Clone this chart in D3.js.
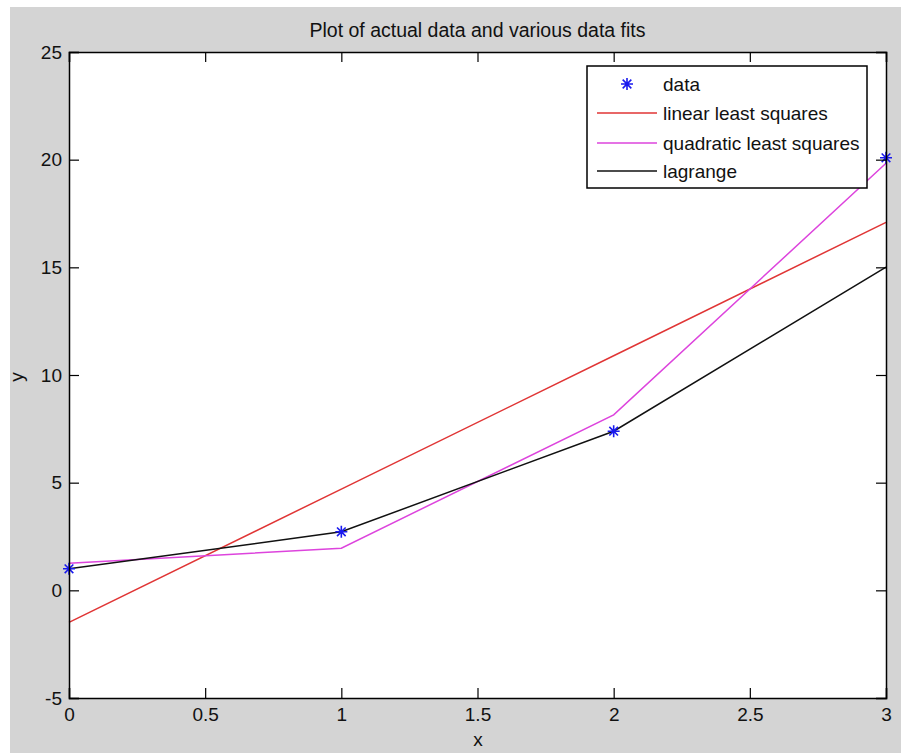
<!DOCTYPE html>
<html><head><meta charset="utf-8">
<script src="https://cdn.jsdelivr.net/npm/d3@7"></script>
<style>body{margin:0;background:#fff}svg{display:block}text{font-family:"Liberation Sans",Arial,sans-serif}</style>
</head><body><svg id="c" width="901" height="753"></svg>
<script>
const xs = [0, 1, 2, 3];
const dataY = [1.0, 2.718, 7.389, 20.086];
const linearY = [-1.491, 4.702, 10.894, 17.087];
const quadY = [1.254, 1.957, 8.150, 19.832];
const lagrangeY = [1.0, 2.718, 7.389, 15.01];
const xTicks = [0, 0.5, 1, 1.5, 2, 2.5, 3];
const yTicks = [-5, 0, 5, 10, 15, 20, 25];
const legendLabels = ["data", "linear least squares", "quadratic least squares", "lagrange"];
const title = "Plot of actual data and various data fits";

const svg = d3.select("#c");
svg.append("rect").attr("x",10).attr("y",7).attr("width",891).attr("height",746).attr("fill","#d4d4d4");
const L=69,R=886,T=52,B=698;
const x = d3.scaleLinear().domain([0,3]).range([L,R]);
const y = d3.scaleLinear().domain([-5,25]).range([B,T]);
svg.append("rect").attr("x",L).attr("y",T).attr("width",R-L).attr("height",B-T).attr("fill","#fff");

const fs = 19;
const line = d3.line().x((d,i)=>x(xs[i])).y(d=>y(d));
const series = [
  {vals: linearY, color:"#e03535"},
  {vals: quadY, color:"#dd44dd"},
  {vals: lagrangeY, color:"#111"}
];
series.forEach(s=>{
  svg.append("path").attr("d",line(s.vals)).attr("fill","none").attr("stroke",s.color).attr("stroke-width",1.5);
});
function star(g, cx, cy, r, color){
  const p = `M${cx-r},${cy}L${cx+r},${cy}M${cx},${cy-r}L${cx},${cy+r}`+
    `M${cx-r*0.72},${cy-r*0.72}L${cx+r*0.72},${cy+r*0.72}M${cx-r*0.72},${cy+r*0.72}L${cx+r*0.72},${cy-r*0.72}`;
  g.append("path").attr("d",p).attr("stroke",color).attr("stroke-width",1.6).attr("fill","none");
}
dataY.forEach((v,i)=>star(svg, x(xs[i]), y(v), 6, "#1a1aee"));

// axes with inward ticks, all sides
const tl = 10;
const axB = svg.append("g").attr("transform",`translate(0,${B})`).call(d3.axisBottom(x).tickValues(xTicks).tickSize(-tl).tickPadding(10).tickFormat(d=>String(d)));
const axT = svg.append("g").attr("transform",`translate(0,${T})`).call(d3.axisTop(x).tickValues(xTicks).tickSize(-tl).tickFormat(""));
const axL = svg.append("g").attr("transform",`translate(${L},0)`).call(d3.axisLeft(y).tickValues(yTicks).tickSize(-tl).tickPadding(7).tickFormat(d=>String(d)));
const axRt = svg.append("g").attr("transform",`translate(${R},0)`).call(d3.axisRight(y).tickValues(yTicks).tickSize(-tl).tickFormat(""));
[axB,axT,axL,axRt].forEach(a=>{
  a.selectAll("path.domain").attr("stroke","#000").attr("stroke-width",1.5);
  a.selectAll(".tick line").attr("stroke","#000").attr("stroke-width",1.2);
  a.selectAll("text").attr("font-size",fs).attr("fill","#111").attr("font-family",'"Liberation Sans",Arial,sans-serif');
});

svg.append("text").attr("x",(L+R)/2).attr("y",37).attr("text-anchor","middle").attr("font-size",19.5).attr("fill","#111").text(title);
svg.append("text").attr("x",478).attr("y",746).attr("text-anchor","middle").attr("font-size",fs).attr("fill","#111").text("x");
svg.append("text").attr("transform","translate(23,377) rotate(-90)").attr("text-anchor","middle").attr("font-size",fs).attr("fill","#111").text("y");

// legend
const lg = svg.append("g");
lg.append("rect").attr("x",587).attr("y",66).attr("width",280).attr("height",122).attr("fill","#fff").attr("stroke","#000").attr("stroke-width",1.5);
const rowY = [84, 113, 143, 171];
const legColors = [null, "#e03535", "#dd44dd", "#111"];
legendLabels.forEach((lab,i)=>{
  if(i===0) star(lg, 627, rowY[i], 6, "#1a1aee");
  else lg.append("line").attr("x1",597).attr("x2",657).attr("y1",rowY[i]).attr("y2",rowY[i]).attr("stroke",legColors[i]).attr("stroke-width",1.5);
  lg.append("text").attr("x",663).attr("y",rowY[i]).attr("dy","0.35em").attr("font-size",fs).attr("fill","#111").text(lab);
});
</script></body></html>
